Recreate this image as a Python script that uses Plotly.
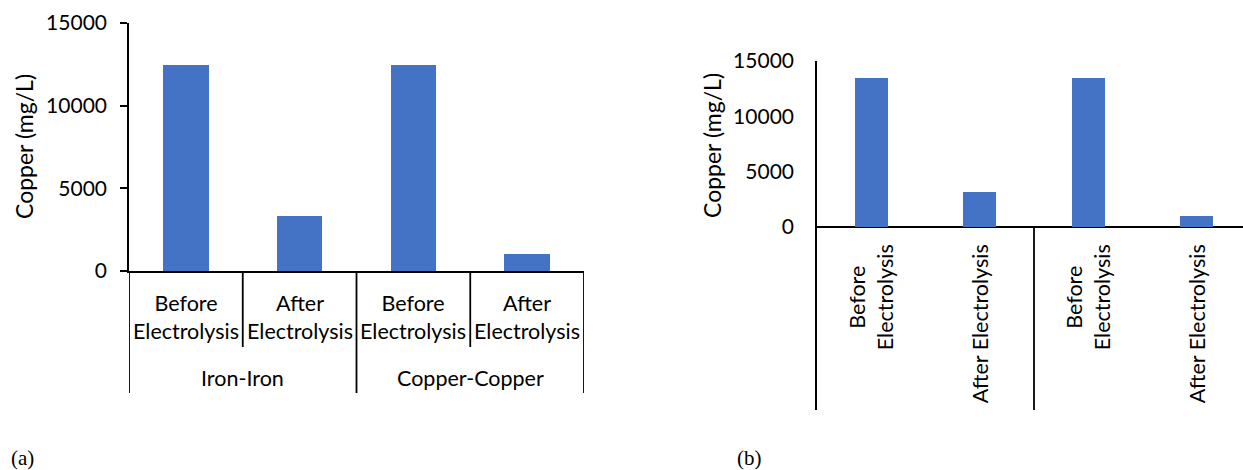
import plotly.graph_objects as go

# ---- data ----
groups = ["Iron-Iron", "Iron-Iron", "Copper-Copper", "Copper-Copper"]
stages = ["Before Electrolysis", "After Electrolysis", "Before Electrolysis", "After Electrolysis"]
stage_labels_a = ["Before<br>Electrolysis", "After<br>Electrolysis", "Before<br>Electrolysis", "After<br>Electrolysis"]
stage_labels_b = ["Before<br>Electrolysis", "After Electrolysis", "Before<br>Electrolysis", "After Electrolysis"]
copper_a = [12450, 3300, 12450, 1000]
copper_b = [13450, 3200, 13450, 1000]
y_ticks = [0, 5000, 10000, 15000]
y_title = "Copper (mg/L)"

W, H = 1243, 470
BLUE = "#4472C4"
FONT = "Lato"
FS = 21
LW = 1.8

keys = [f"{g} | {s}" for g, s in zip(groups, stages)]


def px(xp):
    return xp / W


def py(yp):
    return 1 - yp / H


fig = go.Figure()
fig.add_trace(go.Bar(x=keys, y=copper_a, marker_color=BLUE, width=0.4,
                     xaxis="x", yaxis="y", showlegend=False))
fig.add_trace(go.Bar(x=keys, y=copper_b, marker_color=BLUE, width=0.3,
                     xaxis="x2", yaxis="y2", showlegend=False))

# panel (a) geometry
ax_l, ax_r, ax_top, ax_bot = 129, 584, 23, 271
# panel (b) geometry
bx_l, bx_top, bx_zero, bx_bot = 817, 61, 227, 410
cat_w_b = 108.5
b_range_hi = -0.5 + (W - bx_l) / cat_w_b
b_per_px = 15000 / (bx_zero - bx_top)
b_range_lo = -(bx_bot - bx_zero) * b_per_px

font = dict(family=FONT, size=FS, color="black")
cat_font = dict(family=FONT, size=21.5, color="black")
title_font = dict(family=FONT, size=23, color="black")

fig.update_layout(
    template="none",
    width=W, height=H, autosize=False,
    margin=dict(l=0, r=0, t=0, b=0, pad=0, autoexpand=False),
    paper_bgcolor="white", plot_bgcolor="white",
    font=font, showlegend=False,
    bargap=0,
    xaxis=dict(domain=[px(ax_l), px(ax_r)], type="category", categoryorder="array",
               categoryarray=keys, range=[-0.5, 3.5], showticklabels=False,
               showline=True, linecolor="black", linewidth=LW, ticks="",
               showgrid=False, zeroline=False, automargin=False),
    yaxis=dict(domain=[py(ax_bot), py(ax_top)], range=[0, 15000], tickvals=y_ticks,
               tickformat="d",
               ticks="outside", ticklen=7, tickwidth=LW, tickcolor="black",
               showline=True, linecolor="black", linewidth=LW,
               showgrid=False, zeroline=False, tickfont=font, ticklabelstandoff=9,
               automargin=False),
    xaxis2=dict(domain=[px(bx_l), 1], type="category", categoryorder="array",
                categoryarray=keys, range=[-0.5, b_range_hi], showticklabels=False,
                showline=False, ticks="", showgrid=False, zeroline=False,
                anchor="y2", automargin=False),
    yaxis2=dict(domain=[py(bx_bot), py(bx_top)], range=[b_range_lo, 15000],
                tickvals=y_ticks, tickformat="d", ticks="", showline=True, linecolor="black",
                linewidth=LW, showgrid=False, zeroline=True, zerolinecolor="black",
                zerolinewidth=LW, tickfont=font, ticklabelstandoff=17,
                anchor="x2", automargin=False),
)

shapes = []
# panel (a) dividers
for i in range(len(keys) + 1):
    xpos = i - 0.5
    is_group_edge = i == 0 or i == len(keys) or groups[i - 1] != groups[i]
    bottom = 393 if is_group_edge else 347
    shapes.append(dict(type="line", xref="x", yref="paper", x0=xpos, x1=xpos,
                       y0=py(ax_bot), y1=py(bottom), line=dict(color="black", width=LW)))
# panel (b) group divider
for i in range(1, len(keys)):
    if groups[i - 1] != groups[i]:
        shapes.append(dict(type="line", xref="x2", yref="paper", x0=i - 0.5, x1=i - 0.5,
                           y0=py(bx_zero), y1=py(bx_bot), line=dict(color="black", width=LW)))
fig.update_layout(shapes=shapes)

ann = []
# panel (a) category labels
for k, lab in zip(keys, stage_labels_a):
    ann.append(dict(x=k, xref="x", y=py(317), yref="paper", text=lab, showarrow=False,
                    xanchor="center", yanchor="middle", font=cat_font))
# panel (a) group labels
seen = []
for g in groups:
    if g not in seen:
        seen.append(g)
for g in seen:
    idx = [i for i, gg in enumerate(groups) if gg == g]
    ann.append(dict(x=sum(idx) / len(idx), xref="x", y=py(378), yref="paper", text=g,
                    showarrow=False, xanchor="center", yanchor="middle", font=cat_font))
# panel (b) rotated category labels
for k, lab in zip(keys, stage_labels_b):
    ann.append(dict(x=k, xref="x2", y=py(242), yref="paper", text=lab, showarrow=False,
                    textangle=-90, xanchor="center", yanchor="top", font=cat_font))
# y titles
ann.append(dict(x=px(24), y=py(147), xref="paper", yref="paper", text=y_title,
                textangle=-90, showarrow=False, xanchor="center", yanchor="middle",
                font=title_font))
ann.append(dict(x=px(712), y=py(146), xref="paper", yref="paper", text=y_title,
                textangle=-90, showarrow=False, xanchor="center", yanchor="middle",
                font=title_font))
# panel labels
for t, xp in [("(a)", 22), ("(b)", 749)]:
    ann.append(dict(x=px(xp), y=py(458), xref="paper", yref="paper", text=t,
                    showarrow=False, xanchor="center", yanchor="middle",
                    font=dict(family="Liberation Serif", size=21, color="black")))
fig.update_layout(annotations=ann)

fig.write_html("out.html", config={"displayModeBar": False, "staticPlot": True},
               post_script="document.body.style.margin='0px';document.body.style.overflow='hidden';")
